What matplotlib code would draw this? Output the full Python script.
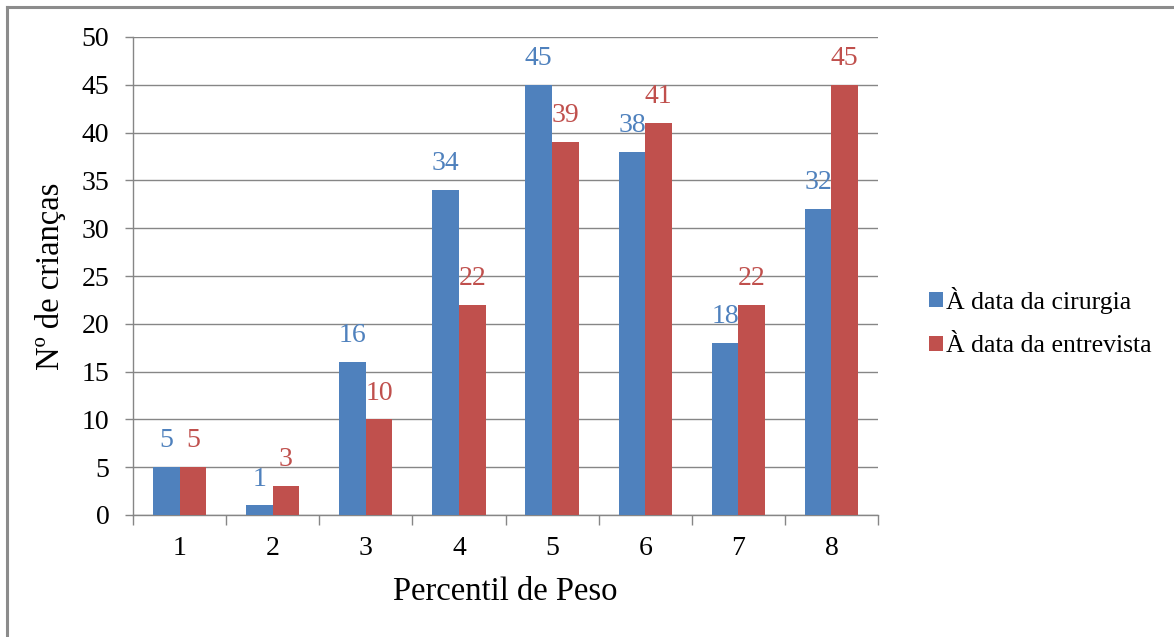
import matplotlib
matplotlib.use("Agg")
import matplotlib.pyplot as plt
from matplotlib.lines import Line2D
import numpy as np

categories = ["1", "2", "3", "4", "5", "6", "7", "8"]
cirurgia = [5, 1, 16, 34, 45, 38, 18, 32]
entrevista = [5, 3, 10, 22, 39, 41, 22, 45]
series_names = ["À data da cirurgia", "À data da entrevista"]
y_ticks = [0, 5, 10, 15, 20, 25, 30, 35, 40, 45, 50]

blue = "#4F81BD"
red = "#C0504D"
axis_gray = "#868686"

plt.rcParams["font.family"] = ["Liberation Serif", "DejaVu Serif"]

W, H = 1174, 637
fig = plt.figure(figsize=(W / 100, H / 100), dpi=100)
ax = fig.add_axes([133 / W, 1 - 515 / H, (878 - 133) / W, (515 - 37) / H])

x = np.arange(len(categories))
bw = 1 / 3.5
b1 = ax.bar(x - bw / 2, cirurgia, bw, color=blue, label=series_names[0], zorder=3)
b2 = ax.bar(x + bw / 2, entrevista, bw, color=red, label=series_names[1], zorder=3)

for bars, vals, col in ((b1, cirurgia, blue), (b2, entrevista, red)):
    for rect, v in zip(bars, vals):
        ax.annotate(str(v), (rect.get_x() + rect.get_width() / 2, v),
                    xytext=(0, 10), textcoords="offset points",
                    ha="center", va="bottom", color=col, fontsize=20, zorder=4)

ax.set_xlim(-0.5, len(categories) - 0.5)
ax.set_ylim(0, 50)
ax.set_yticks(y_ticks)
ax.set_yticklabels([str(t) for t in y_ticks], fontsize=20)
ax.yaxis.grid(True, color=axis_gray, linewidth=1.0, zorder=0)
ax.set_axisbelow(True)

# category labels centred, tick marks on category boundaries
ax.set_xticks(x)
ax.set_xticklabels(categories, fontsize=20)
ax.tick_params(axis="x", which="major", length=0, pad=15)
ax.set_xticks(np.arange(-0.5, len(categories)), minor=True)
ax.tick_params(axis="x", which="minor", length=7, width=1, color=axis_gray, direction="out")
ax.tick_params(axis="y", length=6, width=1, color=axis_gray, pad=11)

for s in ("top", "right"):
    ax.spines[s].set_visible(False)
for s in ("left", "bottom"):
    ax.spines[s].set_color(axis_gray)
    ax.spines[s].set_linewidth(1.0)

ax.set_xlabel("Percentil de Peso", fontsize=23.5, labelpad=11)
ax.set_ylabel("Nº de crianças", fontsize=23.5, labelpad=11)

leg = fig.legend(handles=[b1, b2], labels=series_names, loc="center left",
                 bbox_to_anchor=(919 / W, 1 - 322 / H), frameon=False,
                 fontsize=18.5, handlelength=0.55, handleheight=0.55,
                 handletextpad=0.1, labelspacing=0.85, borderaxespad=0)

# outer frame (top and left edges)
fig.add_artist(Line2D([6.5 / W, 6.5 / W], [0, 1 - 7 / H], transform=fig.transFigure,
                      color="#8C8C8C", linewidth=2.2))
fig.add_artist(Line2D([6.5 / W, 1], [1 - 7 / H, 1 - 7 / H], transform=fig.transFigure,
                      color="#8C8C8C", linewidth=2.2))

fig.savefig("out.png", dpi=100)
